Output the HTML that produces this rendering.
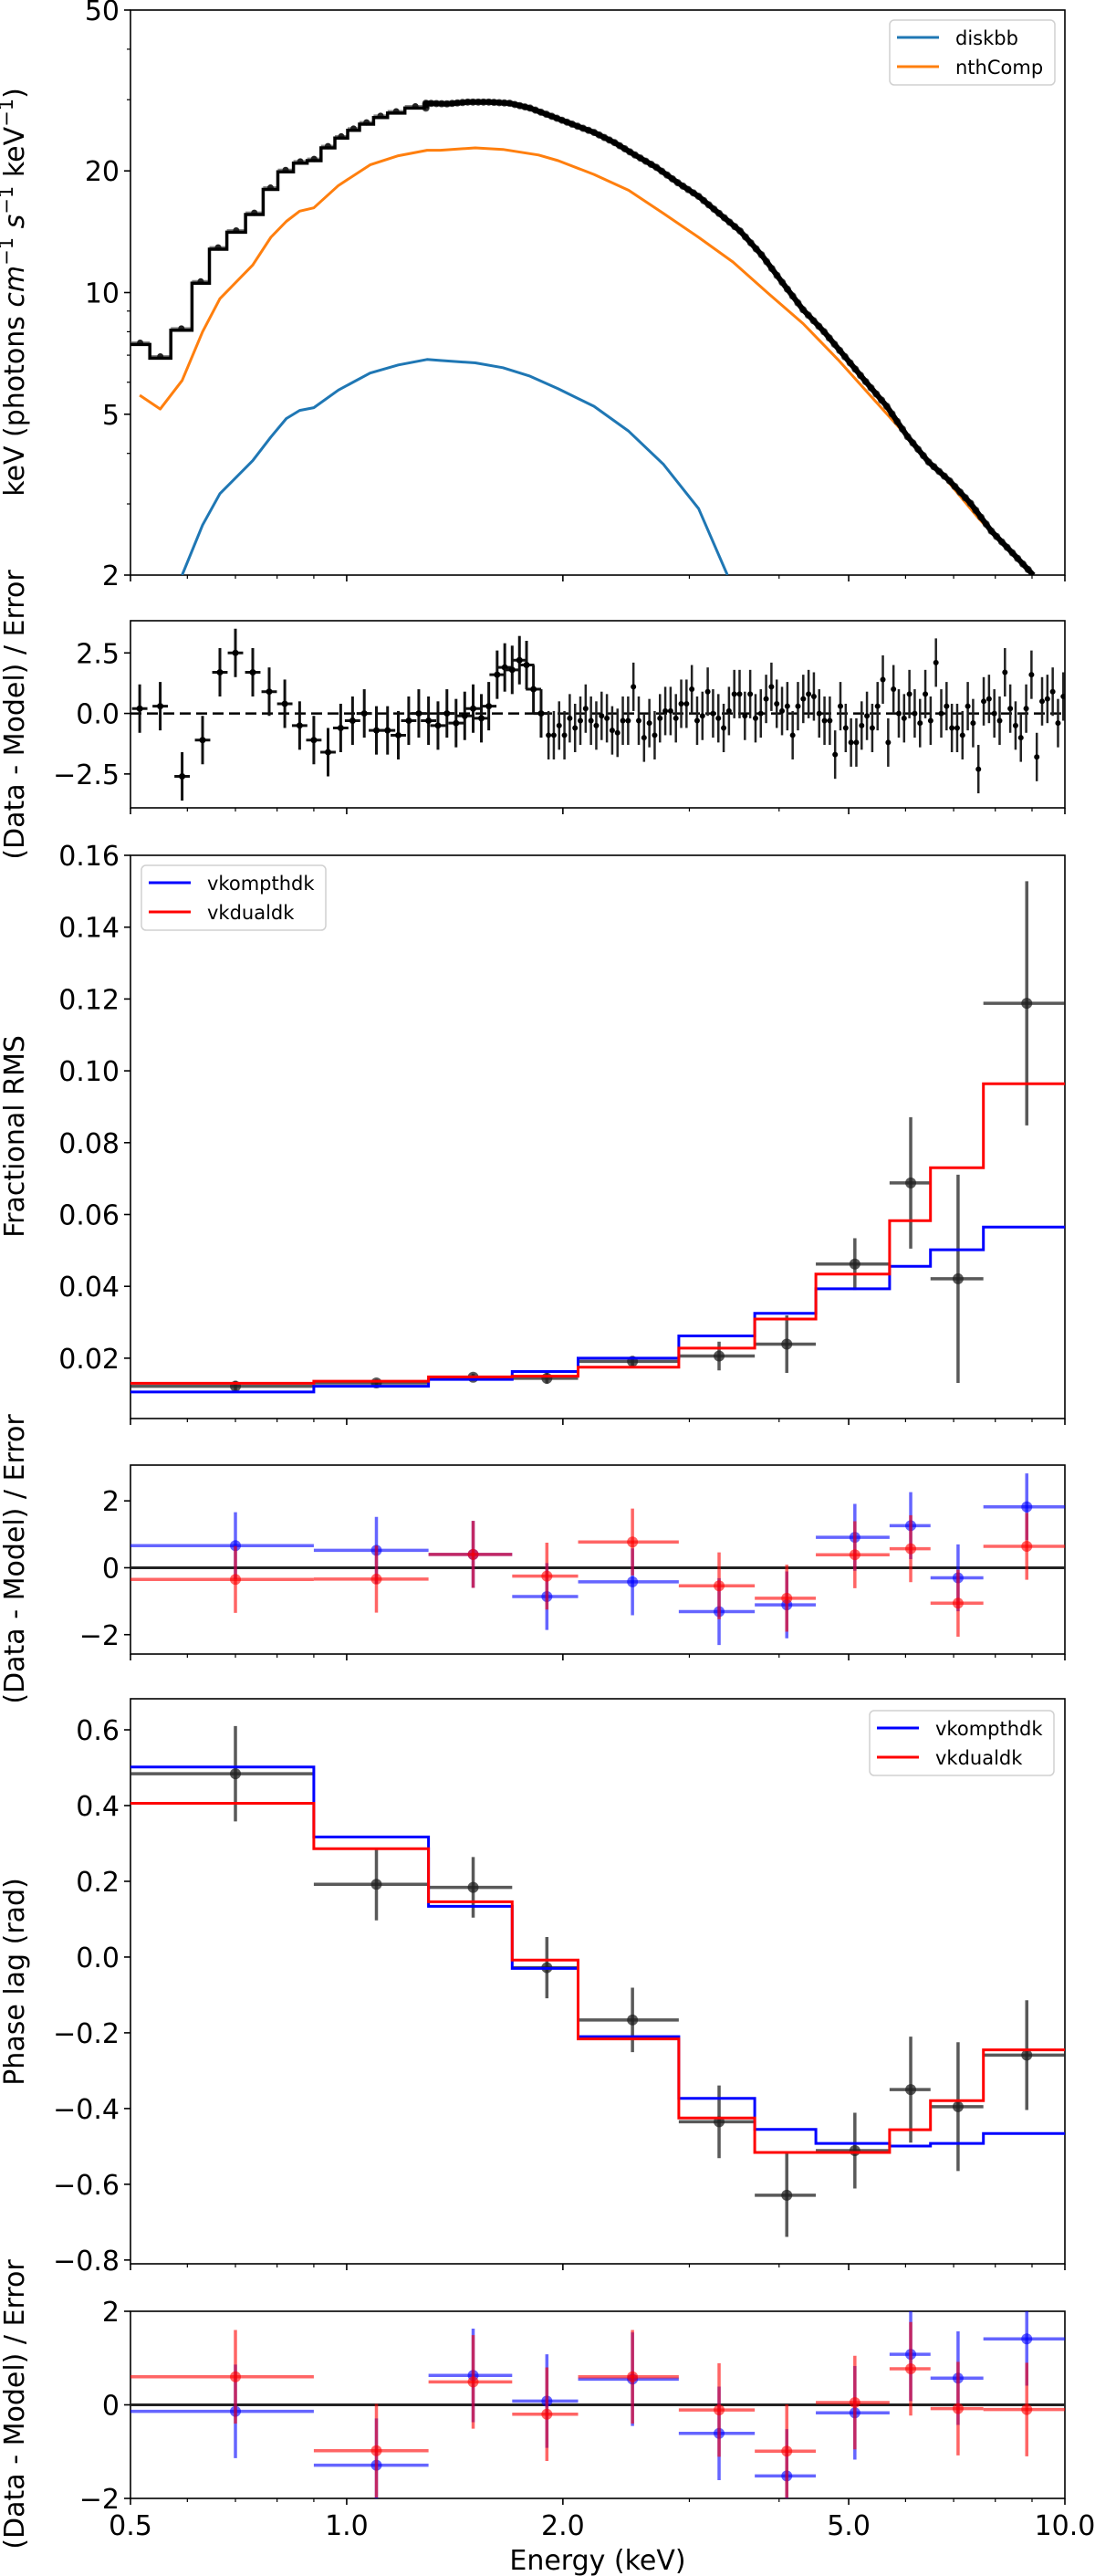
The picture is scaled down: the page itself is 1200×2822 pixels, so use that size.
<!DOCTYPE html>
<html><head><meta charset="utf-8"><title>Spectral fits, fractional RMS and phase lag</title>
<style>
html,body{margin:0;padding:0;background:#fff;}
svg{display:block;font-family:"DejaVu Sans","Liberation Sans",sans-serif;}
</style></head>
<body>
<svg id="fig" xmlns="http://www.w3.org/2000/svg" width="1200" height="2822" viewBox="0 0 1200 2822">
<defs>
<clipPath id="c1"><rect x="143" y="11" width="1024" height="619"/></clipPath>
<clipPath id="c2"><rect x="143" y="680" width="1024" height="205"/></clipPath>
<clipPath id="c3"><rect x="143" y="937" width="1024" height="617"/></clipPath>
<clipPath id="c4"><rect x="143" y="1605" width="1024" height="207"/></clipPath>
<clipPath id="c5"><rect x="143" y="1861" width="1024" height="619"/></clipPath>
<clipPath id="c6"><rect x="143" y="2532" width="1024" height="205"/></clipPath>
</defs>
<text transform="translate(26,320) rotate(-90)" text-anchor="middle" font-size="30">keV  (photons <tspan font-style="italic">cm</tspan><tspan baseline-shift="super" font-size="21">−1</tspan> <tspan font-style="italic">s</tspan><tspan baseline-shift="super" font-size="21">−1</tspan> keV<tspan baseline-shift="super" font-size="21">−1</tspan>)</text>
<text transform="translate(26,783) rotate(-90)" text-anchor="middle" font-size="30">(Data - Model) / Error</text>
<text transform="translate(26,1245) rotate(-90)" text-anchor="middle" font-size="30">Fractional RMS</text>
<text transform="translate(26,1708) rotate(-90)" text-anchor="middle" font-size="30">(Data - Model) / Error</text>
<text transform="translate(26,2171) rotate(-90)" text-anchor="middle" font-size="30">Phase lag (rad)</text>
<text transform="translate(26,2634) rotate(-90)" text-anchor="middle" font-size="30">(Data - Model) / Error</text>
<text x="655" y="2815" text-anchor="middle" font-size="30">Energy (keV)</text>
</svg>
<script>
// ---------- data ----------
const specE = [0.5,0.532,0.569,0.609,0.644,0.681,0.723,0.765,0.802,0.843,0.881,0.921,0.963,1.003,1.042,1.09,1.14,1.205,1.289,1.379,1.474,1.577,1.686,1.80,1.93,2.06,2.21,2.36,2.52,2.70,2.89,3.09,3.30,3.53,3.78,4.04,4.32,4.62,4.94,5.28,5.65,6.04,6.46,6.91,7.39,7.9,8.45,9.04];
const specV = [7.44,6.88,8.07,10.55,12.8,14.1,15.6,18.0,19.9,20.9,21.2,22.8,24.1,25.2,26.1,27.1,27.8,28.6,29.4,29.3,29.6,29.6,29.4,28.6,27.3,26.1,24.9,23.5,21.9,20.4,18.7,17.3,15.7,14.2,12.4,10.6,9.07,8.0,6.94,6.02,5.23,4.40,3.81,3.42,3.01,2.57,2.27,2.0];
const diskE = [0.59,0.63,0.666,0.74,0.784,0.824,0.86,0.90,0.974,1.078,1.18,1.294,1.35,1.51,1.65,1.80,1.97,2.21,2.47,2.76,3.09,3.39];
const diskV = [2.0,2.66,3.18,3.84,4.39,4.88,5.11,5.19,5.74,6.32,6.62,6.83,6.79,6.70,6.52,6.21,5.78,5.23,4.54,3.76,2.92,2.0];
const nthE = [0.515,0.55,0.59,0.63,0.666,0.74,0.784,0.824,0.86,0.90,0.974,1.078,1.18,1.294,1.35,1.51,1.65,1.85,1.97,2.21,2.47,2.76,3.09,3.45,3.86,4.32,4.83,5.4,6.04,6.76,7.56,8.27];
const nthV = [5.57,5.15,6.06,8.0,9.66,11.7,13.7,15.0,15.9,16.2,18.4,20.7,21.8,22.5,22.5,22.8,22.6,21.9,21.2,19.6,17.9,15.7,13.7,11.9,9.97,8.38,6.83,5.48,4.39,3.53,2.78,2.34];
const resLowE = [0.515,0.55,0.59,0.63,0.666,0.70,0.74,0.78,0.82,0.86,0.90,0.942,0.981,1.019,1.058,1.10,1.14,1.18,1.22,1.26,1.30,1.34,1.379,1.42,1.46,1.50,1.54,1.577,1.62,1.66,1.70,1.74,1.78,1.82,1.865];
const resLowV = [0.2,0.3,-2.6,-1.1,1.7,2.5,1.7,0.9,0.4,-0.5,-1.1,-1.6,-0.6,-0.3,0.0,-0.7,-0.7,-0.9,-0.3,0.0,-0.3,-0.5,0.0,-0.4,-0.1,0.2,-0.2,0.3,1.6,1.9,1.8,2.2,2.0,1.0,0.0];
const resHighV = [-0.9,-0.9,-0.5,-0.9,-0.2,-0.6,-0.3,0.2,-0.3,-0.5,-0.1,-0.2,-0.7,-0.8,-0.3,-0.3,1.1,-0.3,-1.0,-0.4,-0.9,-0.2,0.1,0.1,-0.2,0.4,0.4,1.0,-0.3,-0.1,0.9,0.0,-0.2,-0.6,0.1,0.8,0.8,-0.1,0.8,-0.2,0.0,0.6,1.1,0.4,0.1,0.3,-0.9,0.3,0.6,0.8,0.7,0.0,-0.3,-0.3,-1.7,0.3,-0.6,-1.2,-1.2,-0.5,-0.1,-0.6,0.3,1.4,-1.2,1.0,0.0,-0.2,0.8,0.0,-0.4,0.8,-0.3,2.1,0.0,0.3,-0.6,-0.6,-0.9,0.3,-0.4,-2.3,0.5,0.6,0.0,-0.3,1.7,0.2,-0.5,-1.0,0.2,1.6,-1.8,0.5,0.6,0.9,-0.4,0.7];
const resHighRange = [1.91, 9.95];
const binEdges = [0.5,0.9,1.3,1.7,2.1,2.9,3.7,4.5,5.7,6.5,7.7,10.0];
const rmsData = [0.0122,0.0131,0.0147,0.0144,0.0191,0.0206,0.0239,0.0462,0.0688,0.0421,0.1188];
const rmsErr = [0.0015,0.001,0.001,0.0015,0.0015,0.004,0.008,0.0072,0.0183,0.029,0.034];
const rmsKomp = [0.0106,0.0122,0.0141,0.0163,0.0200,0.0262,0.0325,0.0393,0.0456,0.0502,0.0565];
const rmsDual = [0.0130,0.0136,0.0148,0.0150,0.0175,0.0228,0.0309,0.0434,0.0583,0.0730,0.0964];
const rmsResKomp = [0.66,0.52,0.40,-0.86,-0.42,-1.31,-1.11,0.91,1.26,-0.30,1.82];
const rmsResDual = [-0.35,-0.34,0.40,-0.25,0.77,-0.54,-0.91,0.39,0.57,-1.06,0.64];
const lagData = [0.484,0.192,0.184,-0.028,-0.166,-0.435,-0.629,-0.511,-0.350,-0.395,-0.259];
const lagErr = [0.126,0.095,0.08,0.081,0.085,0.096,0.11,0.10,0.14,0.17,0.145];
const lagKomp = [0.502,0.317,0.134,-0.030,-0.210,-0.373,-0.455,-0.492,-0.499,-0.492,-0.466];
const lagDual = [0.406,0.286,0.146,-0.008,-0.216,-0.425,-0.516,-0.516,-0.456,-0.379,-0.245];
const lagResKomp = [-0.14,-1.29,0.63,0.08,0.55,-0.61,-1.52,-0.17,1.08,0.57,1.41];
const lagResDual = [0.60,-0.98,0.49,-0.20,0.60,-0.11,-0.99,0.05,0.77,-0.08,-0.10];
const xTickVals = [0.5,1.0,2.0,5.0,10.0];
const xTickLabels = ["0.5","1.0","2.0","5.0","10.0"];
const xMinor = [0.6,0.7,0.8,0.9,3,4,6,7,8,9];
const stepCount = 18;

// ---------- scales ----------
const svg = document.getElementById('fig');
const NS = 'http://www.w3.org/2000/svg';
const L = 143, R = 1167;
const xs = e => L + (R - L) * Math.log(e / 0.5) / Math.log(20);
const logY = (top, bot, lo, hi) => v => bot - Math.log(v / lo) / Math.log(hi / lo) * (bot - top);
const linY = (top, bot, hi, lo) => v => top + (hi - v) / (hi - lo) * (bot - top);

function mk(tag, attrs, name, parent) {
  const el = document.createElementNS(NS, tag);
  for (const k in attrs) el.setAttribute(k, attrs[k]);
  
  
  (parent || svg).appendChild(el);
  return el;
}
function grp(name, clip) {
  const g = document.createElementNS(NS, 'g');
  if (clip) g.setAttribute('clip-path', 'url(#' + clip + ')');
  
  
  svg.appendChild(g);
  return g;
}
function frame(top, bot, name) {
  mk('rect', {x: L, y: top, width: R - L, height: bot - top, fill: 'none', stroke: '#000', 'stroke-width': 1.6}, name);
  const g = grp(name + '-x-ticks');
  xTickVals.forEach(v => { const x = xs(v); mk('line', {x1: x, x2: x, y1: bot, y2: bot + 7, stroke: '#000', 'stroke-width': 1.6}, 'x-tick', g); });
  xMinor.forEach(v => { const x = xs(v); mk('line', {x1: x, x2: x, y1: bot, y2: bot + 4, stroke: '#000', 'stroke-width': 1.2}, 'x-minor-tick', g); });
}
function yTicks(vals, labels, ys, name, minor) {
  const g = grp(name);
  vals.forEach((v, i) => {
    const y = ys(v);
    mk('line', {x1: L - 7, x2: L, y1: y, y2: y, stroke: '#000', 'stroke-width': 1.6}, 'y-tick', g);
    const t = mk('text', {x: L - 12, y: y + 11, 'text-anchor': 'end', 'font-size': 30}, 'y-tick-label', g);
    t.textContent = labels[i];
  });
  (minor || []).forEach(v => { const y = ys(v); mk('line', {x1: L - 4, x2: L, y1: y, y2: y, stroke: '#000', 'stroke-width': 1.2}, 'y-minor-tick', g); });
}
function polyline(E, V, ys, color, w, name, parent) {
  const pts = E.map((e, i) => xs(e).toFixed(1) + ',' + ys(V[i]).toFixed(1)).join(' ');
  mk('polyline', {points: pts, fill: 'none', stroke: color, 'stroke-width': w, 'stroke-linejoin': 'round'}, name, parent);
}
function stepPath(edges, V, ys, color, w, name, parent) {
  let d = '';
  V.forEach((v, i) => { const y = ys(v).toFixed(1); d += (i === 0 ? 'M' : 'L') + xs(edges[i]).toFixed(1) + ',' + y + 'L' + xs(edges[i + 1]).toFixed(1) + ',' + y; });
  mk('path', {d: d, fill: 'none', stroke: color, 'stroke-width': w}, name, parent);
}
function errPoints(edges, V, err, ys, color, opacity, name, parent, xerr) {
  const g = grp(name);
  parent.appendChild(g);
  V.forEach((v, i) => {
    const xc = xs((edges[i] + edges[i + 1]) / 2);
    if (xerr) mk('line', {x1: xs(edges[i]), x2: xs(edges[i + 1]), y1: ys(v), y2: ys(v), stroke: color, 'stroke-width': 3.5, opacity: opacity}, 'x-error-bar', g);
    mk('line', {x1: xc, x2: xc, y1: ys(v + err[i]), y2: ys(v - err[i]), stroke: color, 'stroke-width': 3.5, opacity: opacity}, 'y-error-bar', g);
    mk('circle', {cx: xc, cy: ys(v), r: 6, fill: color, opacity: opacity}, 'data-point', g);
  });
}
function legend(x, y, w, h, entries, name) {
  const g = grp(name);
  mk('rect', {x: x, y: y, width: w, height: h, rx: 5, fill: '#fff', 'fill-opacity': 0.85, stroke: '#d0d0d0', 'stroke-width': 1.5}, name + '-box', g);
  entries.forEach((en, i) => {
    const yy = y + 19 + i * 32;
    mk('line', {x1: x + 8, x2: x + 54, y1: yy, y2: yy, stroke: en[1], 'stroke-width': 3}, 'legend-swatch-' + en[0], g);
    const t = mk('text', {x: x + 72, y: yy + 8, 'font-size': 21}, 'legend-label-' + en[0], g);
    t.textContent = en[0];
  });
}

// ---------- Panel 1 ----------
const y1 = logY(11, 630, 2, 50);
frame(11, 630, 'spectrum-panel');
yTicks([2, 5, 10, 20, 50], ['2', '5', '10', '20', '50'], y1, 'spectrum-y-ticks', [3, 4, 6, 7, 8, 9, 30, 40]);
const g1 = grp('spectrum-plot-area', 'c1');
polyline(diskE, diskV, y1, '#1f77b4', 3, 'diskbb-line', g1);
polyline(nthE, nthV, y1, '#ff7f0e', 3, 'nthcomp-line', g1);
// low-energy steps
const lowEdges = specE.slice(0, stepCount + 1);
const lowVals = specV.slice(0, stepCount);
const gd = grp('spectrum-data-points');
g1.appendChild(gd);
lowVals.forEach((v, i) => {
  const xa = xs(lowEdges[i]), xb = xs(lowEdges[i + 1]);
  mk('line', {x1: xa, x2: xb, y1: y1(v * 1.01), y2: y1(v * 1.01), stroke: '#555', 'stroke-width': 3, opacity: 0.7}, 'spectrum-x-error', gd);
  mk('circle', {cx: (xa + xb) / 2, cy: y1(v * 1.01), r: 3.5, fill: '#222'}, 'spectrum-data-point', gd);
});
stepPath(lowEdges, lowVals, y1, '#000', 3.5, 'total-model-step', g1);
// high-energy dense part as line with dots
const hiE = specE.slice(stepCount - 1);
const hiV = specV.slice(stepCount - 1);
hiE[0] = specE[stepCount];
polyline(hiE, hiV, y1, '#000', 6, 'total-model-line', g1);
hiE.forEach((e, i) => {
  if (i === 0) return;
  const xa = xs(hiE[i - 1]), xb = xs(e);
  for (let k = 0; k < 4; k++) {
    const f = k / 4;
    const cx = xa + (xb - xa) * f;
    const cy = y1(hiV[i - 1]) + (y1(hiV[i]) - y1(hiV[i - 1])) * f;
    mk('circle', {cx: cx, cy: cy, r: 4, fill: '#222', opacity: 0.8}, 'spectrum-data-point', gd);
  }
});
legend(975, 22, 181, 71, [['diskbb', '#1f77b4'], ['nthComp', '#ff7f0e']], 'spectrum-legend');

// ---------- Panel 2 ----------
const y2 = linY(680, 885, 3.83, -3.9);
frame(680, 885, 'spectrum-residual-panel');
yTicks([2.5, 0, -2.5], ['2.5', '0.0', '−2.5'], y2, 'spectrum-residual-y-ticks');
const g2 = grp('spectrum-residual-plot-area', 'c2');
mk('line', {x1: L, x2: R, y1: y2(0), y2: y2(0), stroke: '#000', 'stroke-width': 2.5, 'stroke-dasharray': '12,6'}, 'zero-dashed-line', g2);
resLowV.forEach((v, i) => {
  const x = xs(resLowE[i]);
  const hw = 1.025;
  mk('line', {x1: xs(resLowE[i] / hw), x2: xs(resLowE[i] * hw), y1: y2(v), y2: y2(v), stroke: '#111', 'stroke-width': 3}, 'residual-x-error', g2);
  mk('line', {x1: x, x2: x, y1: y2(v + 1), y2: y2(v - 1), stroke: '#111', 'stroke-width': 3}, 'residual-y-error', g2);
  mk('circle', {cx: x, cy: y2(v), r: 3.5, fill: '#000'}, 'residual-point', g2);
});
const nH = resHighV.length;
resHighV.forEach((v, i) => {
  const e = resHighRange[0] * Math.pow(resHighRange[1] / resHighRange[0], i / (nH - 1));
  const x = xs(e);
  mk('line', {x1: x, x2: x, y1: y2(v + 1), y2: y2(v - 1), stroke: '#222', 'stroke-width': 2.5}, 'residual-y-error', g2);
  mk('circle', {cx: x, cy: y2(v), r: 3, fill: '#000'}, 'residual-point', g2);
});

// ---------- Panel 3 ----------
const y3 = linY(937, 1554, 0.16, 0.0032);
frame(937, 1554, 'rms-panel');
yTicks([0.02, 0.04, 0.06, 0.08, 0.10, 0.12, 0.14, 0.16], ['0.02', '0.04', '0.06', '0.08', '0.10', '0.12', '0.14', '0.16'], y3, 'rms-y-ticks');
const g3 = grp('rms-plot-area', 'c3');
errPoints(binEdges, rmsData, rmsErr, y3, '#222', 0.75, 'rms-data', g3, true);
stepPath(binEdges, rmsKomp, y3, '#0000ff', 3, 'rms-vkompthdk-step', g3);
stepPath(binEdges, rmsDual, y3, '#ff0000', 3, 'rms-vkdualdk-step', g3);
legend(155, 948, 202, 71, [['vkompthdk', '#0000ff'], ['vkdualdk', '#ff0000']], 'rms-legend');

// ---------- Panel 4 ----------
const y4 = linY(1605, 1812, 3.07, -2.58);
frame(1605, 1812, 'rms-residual-panel');
yTicks([2, 0, -2], ['2', '0', '−2'], y4, 'rms-residual-y-ticks');
const g4 = grp('rms-residual-plot-area', 'c4');
mk('line', {x1: L, x2: R, y1: y4(0), y2: y4(0), stroke: '#222', 'stroke-width': 3}, 'rms-zero-line', g4);
const ones = rmsData.map(() => 1);
errPoints(binEdges, rmsResKomp, ones, y4, '#0000ff', 0.6, 'rms-residual-vkompthdk', g4, true);
errPoints(binEdges, rmsResDual, ones, y4, '#ff0000', 0.6, 'rms-residual-vkdualdk', g4, true);

// ---------- Panel 5 ----------
const y5 = linY(1861, 2480, 0.682, -0.81);
frame(1861, 2480, 'lag-panel');
yTicks([0.6, 0.4, 0.2, 0, -0.2, -0.4, -0.6, -0.8], ['0.6', '0.4', '0.2', '0.0', '−0.2', '−0.4', '−0.6', '−0.8'], y5, 'lag-y-ticks');
const g5 = grp('lag-plot-area', 'c5');
errPoints(binEdges, lagData, lagErr, y5, '#222', 0.75, 'lag-data', g5, true);
stepPath(binEdges, lagKomp, y5, '#0000ff', 3, 'lag-vkompthdk-step', g5);
stepPath(binEdges, lagDual, y5, '#ff0000', 3, 'lag-vkdualdk-step', g5);
legend(953, 1874, 202, 71, [['vkompthdk', '#0000ff'], ['vkdualdk', '#ff0000']], 'lag-legend');

// ---------- Panel 6 ----------
const y6 = linY(2532, 2737, 2, -2);
frame(2532, 2737, 'lag-residual-panel');
yTicks([2, 0, -2], ['2', '0', '−2'], y6, 'lag-residual-y-ticks');
const g6 = grp('lag-residual-plot-area', 'c6');
mk('line', {x1: L, x2: R, y1: y6(0), y2: y6(0), stroke: '#222', 'stroke-width': 3}, 'lag-zero-line', g6);
errPoints(binEdges, lagResKomp, ones, y6, '#0000ff', 0.6, 'lag-residual-vkompthdk', g6, true);
errPoints(binEdges, lagResDual, ones, y6, '#ff0000', 0.6, 'lag-residual-vkdualdk', g6, true);

const gx = grp('x-tick-labels');
xTickVals.forEach((v, i) => {
  const t = mk('text', {x: xs(v), y: 2777, 'text-anchor': 'middle', 'font-size': 30}, 'x-tick-label', gx);
  t.textContent = xTickLabels[i];
});
</script>
</body></html>
